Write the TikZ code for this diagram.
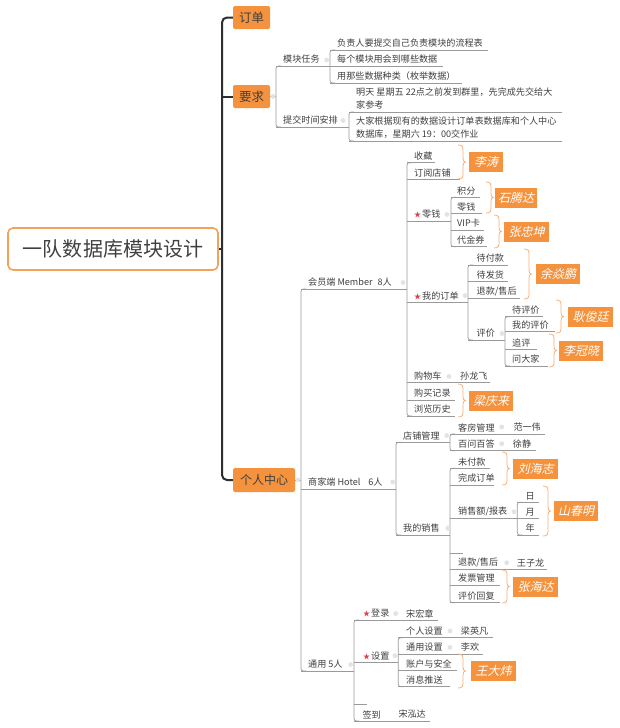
\documentclass[tikz,border=0pt]{standalone}
\usepackage{fontspec}
\newfontfamily\cjk{Noto Sans CJK SC}
\newfontfamily\cjkit[FakeSlant=0.22]{Noto Sans CJK SC}
\definecolor{org}{HTML}{F5923E}
\definecolor{rootc}{HTML}{F4A259}
\definecolor{brcc}{HTML}{F7B27E}
\definecolor{lnc}{HTML}{9A9A9A}
\definecolor{txt}{HTML}{404040}
\definecolor{trk}{HTML}{2E2E2E}
\definecolor{starc}{HTML}{E0404A}
\tikzset{
  ln/.style={draw=lnc, line width=0.7pt},
  trunk/.style={draw=trk, line width=2pt},
  brc/.style={draw=brcc, line width=0.8pt},
  t/.style={anchor=west, inner sep=0pt, align=left, text=txt, font=\cjk\fontsize{9.1}{13.3}\selectfont},
  tb/.style={fill=org, rounded corners=2pt, inner sep=0pt, text=txt, font=\cjk\fontsize{12.5}{12.5}\selectfont},
  nmb/.style={fill=org, inner sep=0pt, minimum height=20pt, text=white, font=\cjkit\fontsize{12}{12}\selectfont},
  ind/.style={fill=gray!22},
}
\newcommand\redstar{{\color{starc}\fontsize{7}{7}\selectfont ★}\hspace{1pt}}
% topic: [text offset]{name}{x left}{x right}{y underline}{text}
\newcommand\tpc[6][7]{%
  \coordinate (#2-l) at (#3,#5);
  \coordinate (#2-r) at (#4,#5);
  \draw[ln] (#2-l) -- (#2-r);
  \node[t] (#2) at (#3+#1,#5-6.5) {#6};}
% two-line topic
\newcommand\tpp[5]{%
  \coordinate (#1-l) at (#2,#4);
  \coordinate (#1-r) at (#3,#4);
  \draw[ln] (#1-l) -- (#1-r);
  \node[t] (#1) at (#2+7,#4-13.2) {#5};}
% bracket joining first and last child
\newcommand\brk[2]{\draw[ln, rounded corners=2.5pt] ([xshift=5pt]#1-l) -- (#1-l) -- (#2-l) -- ([xshift=5pt]#2-l);}
% name box with brace: {name}{x0}{y1}{y2}{box left}{box right}{text}
\newcommand\nmbox[7]{%
  \coordinate (#1-a) at (#2,#3);
  \coordinate (#1-b) at (#2,#4);
  \draw[brc] (#1-a) .. controls (#2+5,#3) and (#2+5,#3+2) .. (#2+5,#3+7)
    -- (#2+5,{(#3+#4)/2-4}) .. controls (#2+5,{(#3+#4)/2-1}) and (#2+6,{(#3+#4)/2}) .. (#2+7.5,{(#3+#4)/2})
    .. controls (#2+6,{(#3+#4)/2}) and (#2+5,{(#3+#4)/2+1}) .. (#2+5,{(#3+#4)/2+4})
    -- (#2+5,#4-7) .. controls (#2+5,#4-2) and (#2+5,#4) .. (#1-b);
  \node[nmb, minimum width=#6pt-#5pt] (#1) at ({(#5+#6)/2},{(#3+#4)/2}) {#7};}
\begin{document}
\begin{tikzpicture}[x=1pt,y=-1pt]
\useasboundingbox (0,0) rectangle (620,728);
\fill[white] (0,0) rectangle (620,728);

% root and main topics
\node[draw=rootc, line width=1.6pt, rounded corners=5pt, fill=white, minimum width=210pt, minimum height=42pt, inner sep=0pt, text=txt, font=\cjk\fontsize{20}{20}\selectfont] (root) at (113,249) {一队数据库模块设计};
\node[tb, minimum width=37pt, minimum height=23pt] (dd) at (251.5,17.5) {订单};
\node[tb, minimum width=37pt, minimum height=23pt] (yq) at (251.5,96.5) {要求};
\node[tb, minimum width=62pt, minimum height=24pt, font=\cjk\fontsize{12}{12}\selectfont] (gr) at (264,480) {个人中心};
\coordinate (tk) at (222,0);
\draw[trunk, rounded corners=5pt] (dd.west) -- (dd.west -| tk) -- (gr.west -| tk) -- (gr.west);
\draw[trunk] (yq.west) -- (yq.west -| tk);
\draw[trunk] (root.east) -- (root.east -| tk);

% ---- 要求
\tpc{mk}{276}{330}{66}{模块任务}
\tpc{tj}{276}{349}{127}{提交时间安排}
\draw[ln] (yq.east) -- (yq.east -| mk-l);
\brk{mk}{tj}
\tpc{mka}{330}{488}{50}{负责人要提交自己负责模块的流程表}
\tpc{mkb}{330}{443}{66}{每个模块用会到哪些数据}
\tpc{mkc}{330}{462}{83}{用那些数据种类（枚举数据）}
\brk{mka}{mkc}
\tpp{tja}{349}{562}{112}{明天 星期五 22点之前发到群里，先完成先交给大\\家参考}
\tpp{tjb}{349}{562}{141}{大家根据现有的数据设计订单表数据库和个人中心\\数据库，星期六 19：00交作业}
\brk{tja}{tjb}

% ---- 个人中心
\tpc{mb}{301}{407}{289}{会员端 Member\hspace{5pt}8人}
\tpc{ht}{301}{396}{489}{商家端 Hotel\hspace{8pt}6人}
\tpc{ty}{301}{354}{671}{通用 5人}
\draw[ln] (gr.east) -- (gr.east -| mb-l);
\brk{mb}{ty}

% member
\tpc{sc}{407}{435}{162.7}{收藏}
\tpc{dy}{407}{460}{179.3}{订阅店铺}
\tpc{lq}{407}{451}{221}{\redstar 零钱}
\tpc{wd}{407}{468}{302.7}{\redstar 我的订单}
\tpc{gw}{407}{449}{382.7}{购物车}
\tpc[11]{slf}{449}{490}{382.7}{孙龙飞}
\tpc{gm}{407}{455}{400}{购买记录}
\tpc{ll}{407}{455}{416}{浏览历史}
\brk{sc}{ll}

\tpc[6]{jf}{451}{480}{197.3}{积分}
\tpc[6]{lqb}{451}{482}{213.3}{零钱}
\tpc[6]{vip}{451}{484}{230}{VIP卡}
\tpc[6]{djq}{451}{487}{246.7}{代金券}
\brk{jf}{djq}

\tpc[8.5]{dfk}{468}{508}{265}{待付款}
\tpc[8.5]{dfh}{468}{508}{281.7}{待发货}
\tpc[8.5]{tka}{468}{520}{298.3}{退款/售后}
\tpc[8.5]{pj}{468}{505}{340}{评价}
\brk{dfk}{pj}

\tpc{dpj}{505}{543}{316.7}{待评价}
\tpc{wdpj}{505}{555}{331.7}{我的评价}
\tpc{zp}{505}{537}{349.3}{追评}
\tpc{wdj}{505}{548}{366}{问大家}
\brk{dpj}{wdj}

% hotel
\tpc{dp}{396}{450}{442.3}{店铺管理}
\tpc{ws}{396}{450}{535}{我的销售}
\brk{dp}{ws}
\tpc[8]{kf}{450}{501.7}{434}{客房管理}
\tpc[11.6]{fyw}{501.7}{545}{434}{范一伟}
\tpc[8]{bw}{450}{502}{450.7}{百问百答}
\tpc[10.7]{xj}{502}{536}{450.7}{徐静}
\brk{kf}{bw}
\tpc[8]{wfk}{450}{490}{468.3}{未付款}
\tpc[8]{wc}{450}{494}{485}{完成订单}
\tpc[8]{xse}{450}{517.3}{518.3}{销售额/报表}
\coordinate (ema-l) at (450,553.3);
\coordinate (ema-r) at (462.7,553.3);
\draw[ln] (ema-l) -- (ema-r);
\tpc[8]{tkb}{450}{506.7}{569.3}{退款/售后}
\tpc[10]{wzl}{506.7}{547}{569.3}{王子龙}
\tpc[8]{fp}{450}{500}{585}{发票管理}
\tpc[8]{pjhf}{450}{500}{602.7}{评价回复}
\brk{wfk}{pjhf}
\tpc[8.2]{ri}{517.3}{539}{502.3}{日}
\tpc[8.2]{yue}{517.3}{539}{518.3}{月}
\tpc[8.2]{nian}{517.3}{539}{535}{年}
\brk{ri}{nian}

% general
\tpc[9]{dl}{354}{395.7}{620}{\redstar 登录}
\tpc[10.3]{shz}{395.7}{438}{620}{宋宏章}
\tpc[9]{sz}{354}{398.3}{662.7}{\redstar 设置}
\coordinate (emb-l) at (354,704);
\coordinate (emb-r) at (367,704);
\draw[ln] (emb-l) -- (emb-r);
\tpc[8.3]{qd}{354}{387.3}{721}{签到}
\tpc[11]{shd}{387.3}{430}{721}{宋泓达}
\brk{dl}{qd}
\tpc[7.7]{grsz}{398.3}{450}{637.7}{个人设置}
\tpc[10.7]{lyf}{450}{492.7}{637.7}{梁英凡}
\tpc[7.7]{tysz}{398.3}{450}{654}{通用设置}
\tpc[10.7]{lh}{450}{483.3}{654}{李欢}
\tpc[7.7]{zhaq}{398.3}{456.7}{670.7}{账户与安全}
\tpc[7.7]{xxts}{398.3}{450}{686.7}{消息推送}
\brk{grsz}{xxts}

% name boxes with braces
\nmbox{na}{458}{145}{179}{469}{503}{李涛}
\nmbox{nb}{486}{182}{213}{495}{537}{石腾达}
\nmbox{nc}{494}{215}{248}{504}{549}{张忠坤}
\nmbox{nd}{524}{249}{299}{536}{580}{余焱鹏}
\nmbox{ne}{556}{300}{333}{568}{613}{耿俊廷}
\nmbox{nf}{549}{334}{367}{559}{603}{李冠晓}
\nmbox{ng}{458}{384}{417}{469}{513}{梁庆来}
\nmbox{nh}{502}{452}{485}{513}{558}{刘海志}
\nmbox{ni}{543}{486}{536}{554}{598}{山春明}
\nmbox{nj}{502}{570}{603}{513}{558}{张海达}
\nmbox{nk}{458}{654}{688}{471}{516}{王大炜}

% collapse indicators
\foreach \x/\y in {273/96.5, 326.7/60, 343/120.5, 298/480, 403/282.5, 447/214.5, 465/295.5, 502/333.5, 449/376.5, 392.7/482, 446.7/435.5, 501.7/427, 501.7/443.7, 447.7/528.3, 514/511.7, 506.7/562.7, 350.7/664.5, 395.7/613.5, 395/655.7, 450/631, 450/647.5}
  \fill[ind] (\x,\y) circle[radius=2.4pt];
\end{tikzpicture}
\end{document}
